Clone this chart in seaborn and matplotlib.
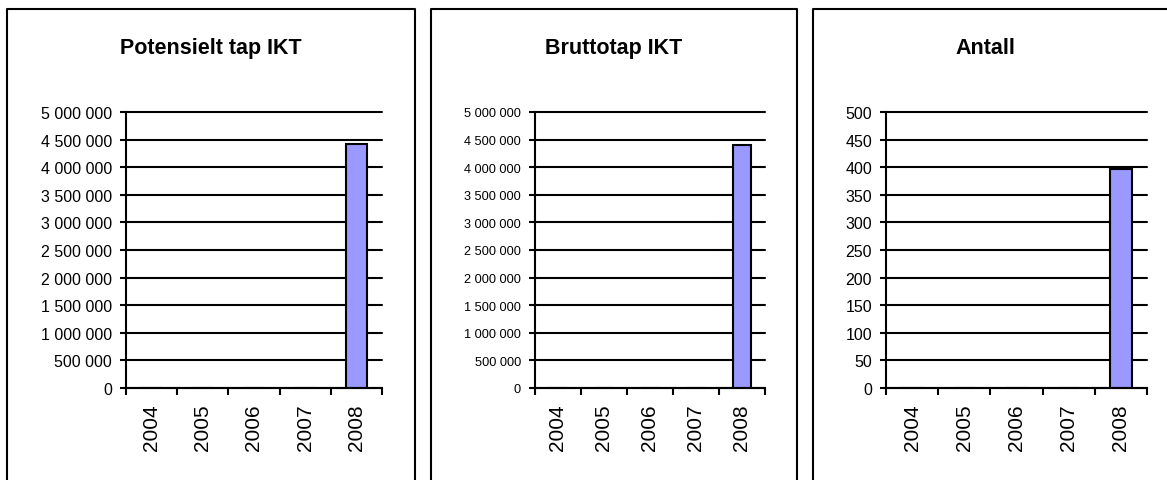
import numpy as np
import pandas as pd
import seaborn as sns
from matplotlib import pyplot as plt
from matplotlib.lines import Line2D

# data
years = ["2004", "2005", "2006", "2007", "2008"]
potensielt_tap = [0, 0, 0, 0, 4420000]
bruttotap = [0, 0, 0, 0, 4400000]
antall = [0, 0, 0, 0, 397]

titles = ["Potensielt tap IKT", "Bruttotap IKT", "Antall"]
y_max = [5000000, 5000000, 500]
y_step = [500000, 500000, 50]
ytick_size = [11.5, 9.2, 11.5]

sns.set_theme(style="white")
plt.rcParams['font.family'] = ['Liberation Sans', 'DejaVu Sans']
plt.rcParams['text.color'] = "black"

W, H = 1167, 481
fig = plt.figure(figsize=(W / 100, H / 100), dpi=100)

# axes boxes in pixels: (left, right), shared top/bottom
ax_px = [(126, 382), (535, 765), (886, 1147)]
top_px, bottom_px = 113, 389
# outer frames in pixels
frames = [(7, 415), (431, 797), (813, 1175)]
title_x = [211, 614, 985]

for i, values in enumerate([potensielt_tap, bruttotap, antall]):
    l, r = ax_px[i]
    ax = fig.add_axes([l / W, 1 - bottom_px / H, (r - l) / W, (bottom_px - top_px) / H])
    df = pd.DataFrame({"year": years, "value": values})
    sns.barplot(data=df, x="year", y="value", order=years, color="#9999FF",
                edgecolor="black", linewidth=1.5, width=0.41, saturation=1, ax=ax)
    ax.set_xlim(-0.5, len(years) - 0.5)
    ax.set_ylim(0, y_max[i])
    yt = np.arange(0, y_max[i] + 1, y_step[i])
    ax.set_yticks(yt)
    ax.set_yticklabels([f"{int(v):,}".replace(",", " ") for v in yt], fontsize=ytick_size[i])
    ax.set_xticks(np.arange(len(years)))
    ax.set_xticklabels(years, rotation=90, fontsize=15)
    ax.set_xticks(np.arange(len(years) + 1) - 0.5, minor=True)
    ax.tick_params(axis="x", which="major", length=0, pad=11)
    ax.tick_params(axis="x", which="minor", length=5, width=1.5, color="black", direction="out", bottom=True)
    ax.tick_params(axis="y", length=4, width=1.5, color="black", direction="out", left=True, pad=6)
    ax.set_xlabel("")
    ax.set_ylabel("")
    ax.yaxis.grid(True, color="black", linewidth=1.5)
    for gl in ax.get_ygridlines():
        gl.set_clip_on(False)
    ax.set_axisbelow(True)
    for side in ["top", "right"]:
        ax.spines[side].set_visible(False)
    for side in ["left", "bottom"]:
        ax.spines[side].set_color("black")
        ax.spines[side].set_linewidth(1.5)
    ax.tick_params(labelcolor="black")

    fig.text(title_x[i] / W, 1 - 49 / H, titles[i], ha="center", va="center",
             fontsize=15.5, fontweight="bold", color="black")

    # outer chart frame (open at the bottom like the reference crop)
    fl, fr = frames[i]
    xs = [fl / W, fl / W, fr / W, fr / W]
    ys = [-0.05, 1 - 10 / H, 1 - 10 / H, -0.05]
    fig.add_artist(Line2D(xs, ys, transform=fig.transFigure, color="black", linewidth=1.5))

fig.savefig("out.png", dpi=100, facecolor="white")
